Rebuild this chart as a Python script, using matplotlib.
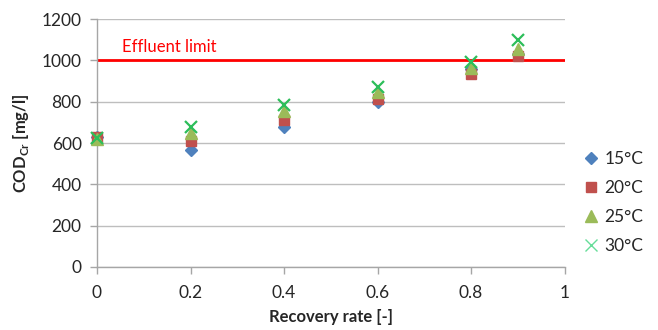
import matplotlib
matplotlib.use("Agg")
import matplotlib.pyplot as plt
from matplotlib.lines import Line2D

plt.rcParams['font.family'] = ['Lato', 'DejaVu Sans']
plt.rcParams['mathtext.fontset'] = 'custom'
plt.rcParams['mathtext.rm'] = 'Lato'
plt.rcParams['mathtext.bf'] = 'Lato:bold'

recovery = [0, 0.2, 0.4, 0.6, 0.8, 0.9]
cod_15 = [630, 565, 680, 800, 960, 1030]
cod_20 = [630, 610, 712, 812, 932, 1021]
cod_25 = [620, 648, 757, 849, 965, 1053]
cod_30 = [625, 676, 783, 873, 994, 1098]
effluent_limit = 1000

series = [
    ("15°C", cod_15, dict(marker='D', color='#4F81BD', ms=6.5)),
    ("20°C", cod_20, dict(marker='s', color='#C0504D', ms=7)),
    ("25°C", cod_25, dict(marker='^', color='#9BBB59', ms=8.5)),
    ("30°C", cod_30, dict(marker='x', color='#2DBE5A', ms=9, mew=1.6)),
]

fig = plt.figure(figsize=(6.58, 3.30), dpi=100)
ax = fig.add_axes([0.1474, 0.191, 0.7106, 0.751])

ax.set_xlim(0, 1)
ax.set_ylim(0, 1200)
ax.set_xticks([0, 0.2, 0.4, 0.6, 0.8, 1])
ax.set_xticklabels(['0', '0.2', '0.4', '0.6', '0.8', '1'])
ax.set_yticks(range(0, 1201, 200))

ax.yaxis.grid(True, color='#BEBEBE', linewidth=1)
ax.set_axisbelow(True)
for s in ('top', 'right'):
    ax.spines[s].set_visible(False)
for s in ('left', 'bottom'):
    ax.spines[s].set_color('#A6A6A6')
    ax.spines[s].set_linewidth(1)
ax.tick_params(axis='both', colors='#A6A6A6', length=5, width=1,
               labelcolor='#262626', labelsize=12.5)
ax.tick_params(axis='x', pad=8)
ax.tick_params(axis='y', pad=6)

ax.axhline(effluent_limit, color='#FF0000', linewidth=2, zorder=2)
ax.text(0.053, effluent_limit + 28, 'Effluent limit', color='#FF0000',
        fontsize=12, va='bottom', ha='left')

for label, vals, style in series:
    ax.plot(recovery, vals, linestyle='none', label=label, zorder=3,
            clip_on=False, **style)

ax.set_xlabel('Recovery rate [-]', fontsize=12, fontweight='bold',
              color='#262626', labelpad=6)
ax.set_ylabel(r'COD$_{\mathbf{Cr}}$ [mg/l]', fontsize=12, fontweight='bold',
              color='#262626', labelpad=8)

# legend handles: the cross is drawn thinner and lighter in the key
handles = [
    Line2D([], [], linestyle='none', marker='D', color='#4F81BD', ms=6.5),
    Line2D([], [], linestyle='none', marker='s', color='#C0504D', ms=7),
    Line2D([], [], linestyle='none', marker='^', color='#9BBB59', ms=8.5),
    Line2D([], [], linestyle='none', marker='x', color='#66DD99', ms=9, mew=1.0),
]
leg = ax.legend(handles, [s[0] for s in series], loc='center left',
                bbox_to_anchor=(1.0, 0.26), frameon=False,
                fontsize=12.5, handletextpad=0.2, labelspacing=0.75,
                handlelength=1.2)
for t in leg.get_texts():
    t.set_color('#262626')

fig.savefig('out.png', dpi=100)
